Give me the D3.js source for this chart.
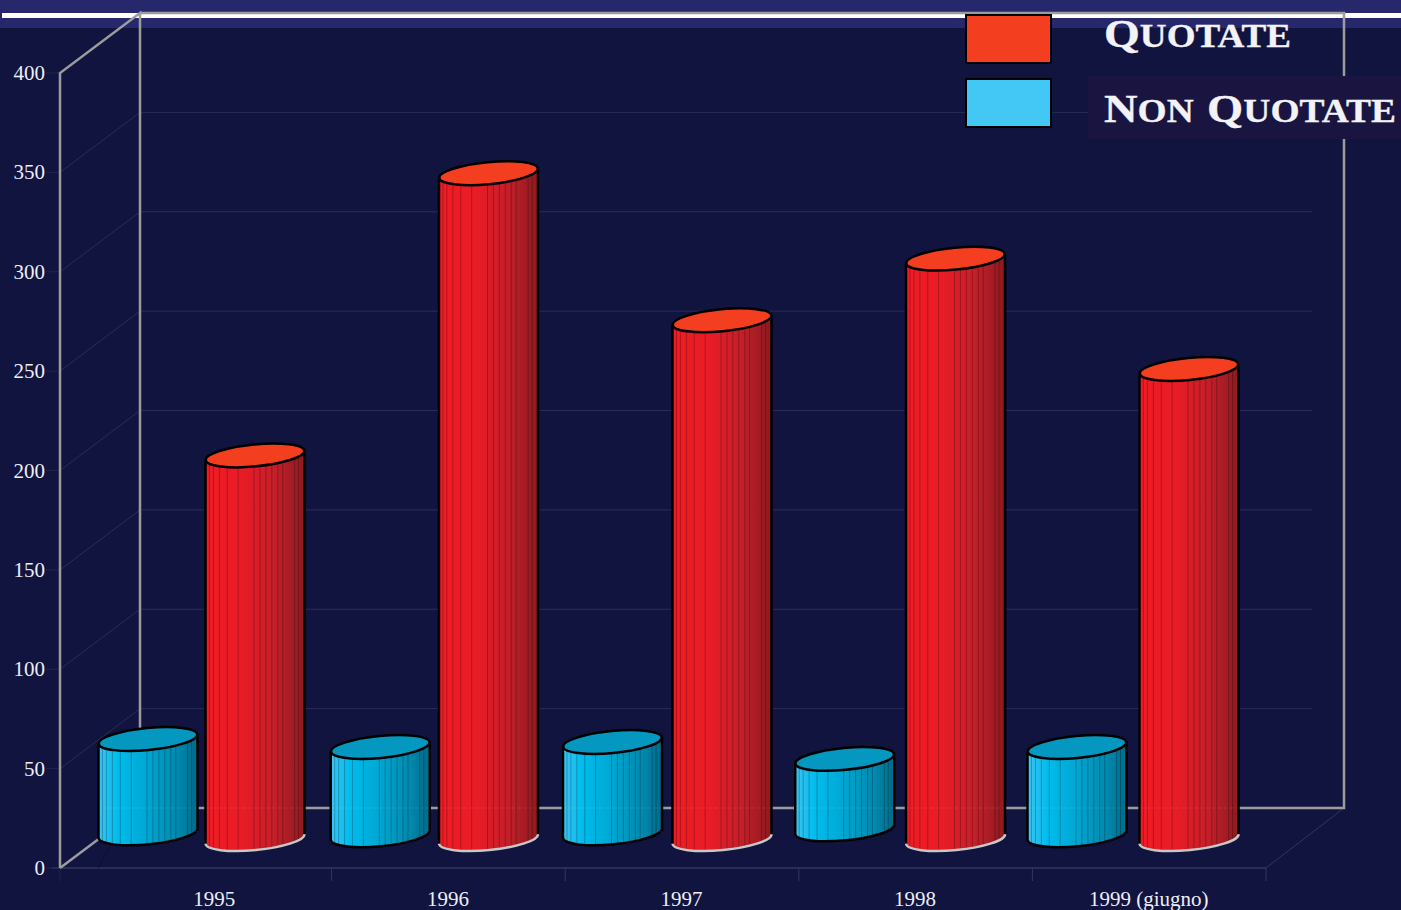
<!DOCTYPE html>
<html>
<head>
<meta charset="utf-8">
<script src="https://cdn.jsdelivr.net/npm/d3@7"></script>
<style>
  html, body { margin: 0; padding: 0; background: #10143f; overflow: hidden; }
  text { font-family: "Liberation Serif", serif; fill: #eeeef4; }
  .legend { font-weight: bold; fill: #f2f2f8; stroke: #f2f2f8; stroke-width: 0.3px; }
  .legend .low { font-variant: small-caps; font-size: 47px; }
  .legend .cap { font-size: 41px; }
</style>
</head>
<body>
<svg id="chart" width="1401" height="910"></svg>
<script>
// values
const years = ["1995", "1996", "1997", "1998", "1999 (giugno)"];
const yTicks = [0, 50, 100, 150, 200, 250, 300, 350, 400];
const quotate = [193, 335, 261, 292, 236.5];
const nonQuotate = [50.3, 46.3, 48.8, 40.3, 46.3];
// the blue cylinders do not all sit on the floor in the original
const nonQuotateBase = [2.9, 1.9, 2.9, 4.9, 1.9];
const quotateBase = [0, 0, 0, 0, 0];
// where the vertical facets of a cylinder fall, 0 = left side, 1 = right side
const facets = [0.04, 0.08, 0.14, 0.22, 0.33, 0.49, 0.55, 0.61, 0.67, 0.73, 0.78, 0.9, 0.94];

const svg = d3.select("#chart");
const defs = svg.append("defs");

const bg = "#10143f";
const depth = {x: 80, y: -60};
const midY = -29;
const rx = 49.5, ry = 11, tilt = -5.5;
const tiltRise = rx * Math.sin(-tilt * Math.PI / 180);
const frameColor = "#9c9c9f";
const faintColor = "#2a2d55";

const y = d3.scaleLinear().domain([0, 400]).range([868, 73]);
const x = d3.scaleBand().domain(years).range([98, 1266]);
// each series has its own slightly different spacing in the original
const xBlue = d3.scalePoint().domain(years).range([148, 1077]);
const xRed = d3.scalePoint().domain(years).range([255, 1189]);

function addGradient(id, stops) {
  let g = defs.append("linearGradient").attr("id", id);
  stops.forEach((s) => {
    g.append("stop").attr("offset", s[0]).attr("stop-color", s[1]);
  });
}
addGradient("redSide", [[0, "#ee1c25"], [0.35, "#ea1c26"], [0.7, "#c41f29"], [1, "#8c1a20"]]);
addGradient("blueSide", [[0, "#3cc4f5"], [0.2, "#00bcec"], [0.5, "#00a6d2"], [0.8, "#0089ae"], [1, "#006a8a"]]);

// background and top band
svg.append("rect").attr("width", 1401).attr("height", 910).attr("fill", bg);
svg.append("rect").attr("width", 1401).attr("height", 28).attr("fill", "#27286b");
svg.append("rect").attr("x", 2).attr("y", 13).attr("width", 1399).attr("height", 5).attr("fill", "#ffffff");

const sideX = 60;
const backX = sideX + depth.x;
const backRight = 1344;

// faint gridlines on side wall and back wall
yTicks.slice(1, -1).forEach((t) => {
  svg.append("line").attr("x1", sideX).attr("y1", y(t)).attr("x2", backX).attr("y2", y(t) + depth.y)
    .attr("stroke", faintColor).attr("stroke-width", 1);
  svg.append("line").attr("x1", backX).attr("y1", y(t) + depth.y).attr("x2", 1312).attr("y2", y(t) + depth.y)
    .attr("stroke", faintColor).attr("stroke-width", 1);
});

// front floor line, right floor edge, ticks
svg.append("line").attr("x1", sideX - 8).attr("y1", y(0)).attr("x2", x.range()[1]).attr("y2", y(0))
  .attr("stroke", "#44466a");
svg.append("line").attr("x1", x.range()[1]).attr("y1", y(0)).attr("x2", backRight).attr("y2", y(0) + depth.y)
  .attr("stroke", "#33365c");
svg.append("line").attr("x1", x.range()[0]).attr("y1", y(0)).attr("x2", backX).attr("y2", y(0) + depth.y - 14)
  .attr("stroke", "#0c0f30");
x.domain().slice(1).forEach((d) => {
  svg.append("line").attr("x1", x(d)).attr("x2", x(d)).attr("y1", y(0)).attr("y2", y(0) + 13).attr("stroke", "#33365c");
});
svg.append("line").attr("x1", x.range()[1]).attr("x2", x.range()[1]).attr("y1", y(0)).attr("y2", y(0) + 13).attr("stroke", "#33365c");
svg.append("line").attr("x1", sideX).attr("x2", sideX).attr("y1", y(0)).attr("y2", y(0) + 13).attr("stroke", "#22254a");
yTicks.forEach((t) => {
  svg.append("line").attr("x1", sideX - 14).attr("x2", sideX).attr("y1", y(t)).attr("y2", y(t)).attr("stroke", "#22254a");
});

// bright frame
let frame = d3.path();
frame.moveTo(sideX, y(0));
frame.lineTo(sideX, y(400));
frame.lineTo(backX, y(400) + depth.y);
frame.lineTo(backX, y(0) + depth.y);
frame.lineTo(backRight, y(0) + depth.y);
frame.lineTo(backRight, y(400) + depth.y);
frame.lineTo(backX, y(400) + depth.y);
frame.moveTo(backX, y(0) + depth.y);
frame.lineTo(sideX, y(0));
svg.append("path").attr("d", frame.toString()).attr("fill", "none")
  .attr("stroke", frameColor).attr("stroke-width", 2.5);

// tick labels
svg.selectAll(".ylabel").data(yTicks).enter().append("text")
  .attr("class", "ylabel")
  .attr("x", 45).attr("y", (d) => y(d) + 7)
  .attr("text-anchor", "end").style("font-size", "21px")
  .text((d) => d);
svg.selectAll(".xlabel").data(years).enter().append("text")
  .attr("class", "xlabel")
  .attr("x", (d) => x(d) + x.bandwidth() / 2 - 0.5).attr("y", 906)
  .attr("text-anchor", "middle").style("font-size", "21px")
  .text((d) => d);

/**
 * Draws one cylinder. low and high are chart values, cx the centre from the scale.
 */
function cylinder(id, cx, low, high, gradient, capColor, baseStroke) {
  let yt = y(high) + midY;
  let yb = y(low) + midY;
  let L = cx - rx, R = cx + rx;
  let side = "M" + L + "," + (yt + tiltRise) + " L" + L + "," + (yb + tiltRise)
    + " A" + rx + "," + ry + " " + tilt + " 0 0 " + R + "," + (yb - tiltRise)
    + " L" + R + "," + (yt - tiltRise)
    + " A" + rx + "," + ry + " " + tilt + " 0 1 " + L + "," + (yt + tiltRise) + " Z";
  let bottomArc = "M" + L + "," + (yb + tiltRise)
    + " A" + rx + "," + ry + " " + tilt + " 0 0 " + R + "," + (yb - tiltRise);

  defs.append("clipPath").attr("id", id).append("path").attr("d", side);
  let g = svg.append("g");
  g.append("path").attr("d", side).attr("fill", "url(#" + gradient + ")");
  g.append("g").attr("clip-path", "url(#" + id + ")")
    .selectAll("line").data(facets).enter().append("line")
    .attr("x1", (d) => L + d * 2 * rx).attr("x2", (d) => L + d * 2 * rx)
    .attr("y1", yt - 20).attr("y2", yb + 20)
    .attr("stroke", "#000000").attr("stroke-opacity", 0.25).attr("stroke-width", 1);
  // the floor line of the frame shows faintly through the bars
  g.append("line").attr("clip-path", "url(#" + id + ")")
    .attr("x1", L).attr("x2", R).attr("y1", y(0) + depth.y).attr("y2", y(0) + depth.y)
    .attr("stroke", "#ffffff").attr("stroke-opacity", 0.1).attr("stroke-dasharray", "4 2");

  g.append("line").attr("x1", L).attr("x2", L).attr("y1", yt + tiltRise).attr("y2", yb + tiltRise)
    .attr("stroke", "#000").attr("stroke-width", 2.5);
  g.append("line").attr("x1", R).attr("x2", R).attr("y1", yt - tiltRise).attr("y2", yb - tiltRise)
    .attr("stroke", "#000").attr("stroke-width", 2.5);
  g.append("path").attr("d", bottomArc).attr("fill", "none")
    .attr("stroke", baseStroke).attr("stroke-width", 2.5);
  g.append("ellipse").attr("cx", cx).attr("cy", yt).attr("rx", rx).attr("ry", ry)
    .attr("transform", "rotate(" + tilt + " " + cx + " " + yt + ")")
    .attr("fill", capColor).attr("stroke", "#000").attr("stroke-width", 2.5);
}

years.forEach((d, i) => {
  cylinder("clipB" + i, xBlue(d), nonQuotateBase[i], nonQuotate[i], "blueSide", "#0497c0", "#000");
  cylinder("clipR" + i, xRed(d), quotateBase[i], quotate[i], "redSide", "#f43e20", "#c8c8c8");
});

// legend
svg.append("rect").attr("x", 1088).attr("y", 76).attr("width", 313).attr("height", 63).attr("fill", "#1a1540");
svg.append("rect").attr("x", 966).attr("y", 15).attr("width", 85).attr("height", 48)
  .attr("fill", "#f43e20").attr("stroke", "#000").attr("stroke-width", 2);
svg.append("rect").attr("x", 966).attr("y", 79).attr("width", 85).attr("height", 48)
  .attr("fill", "#43c8f6").attr("stroke", "#000").attr("stroke-width", 2);

function legendText(parts, ypos, len) {
  let t = svg.append("text").attr("class", "legend").attr("x", 1104).attr("y", ypos)
    .attr("textLength", len).attr("lengthAdjust", "spacingAndGlyphs");
  parts.forEach((p) => {
    t.append("tspan").attr("class", p === p.toUpperCase() ? "cap" : "low").text(p);
  });
}
legendText(["Q", "uotate"], 47, 187);
legendText(["N", "on ", "Q", "uotate"], 122, 292);
</script>
</body>
</html>
